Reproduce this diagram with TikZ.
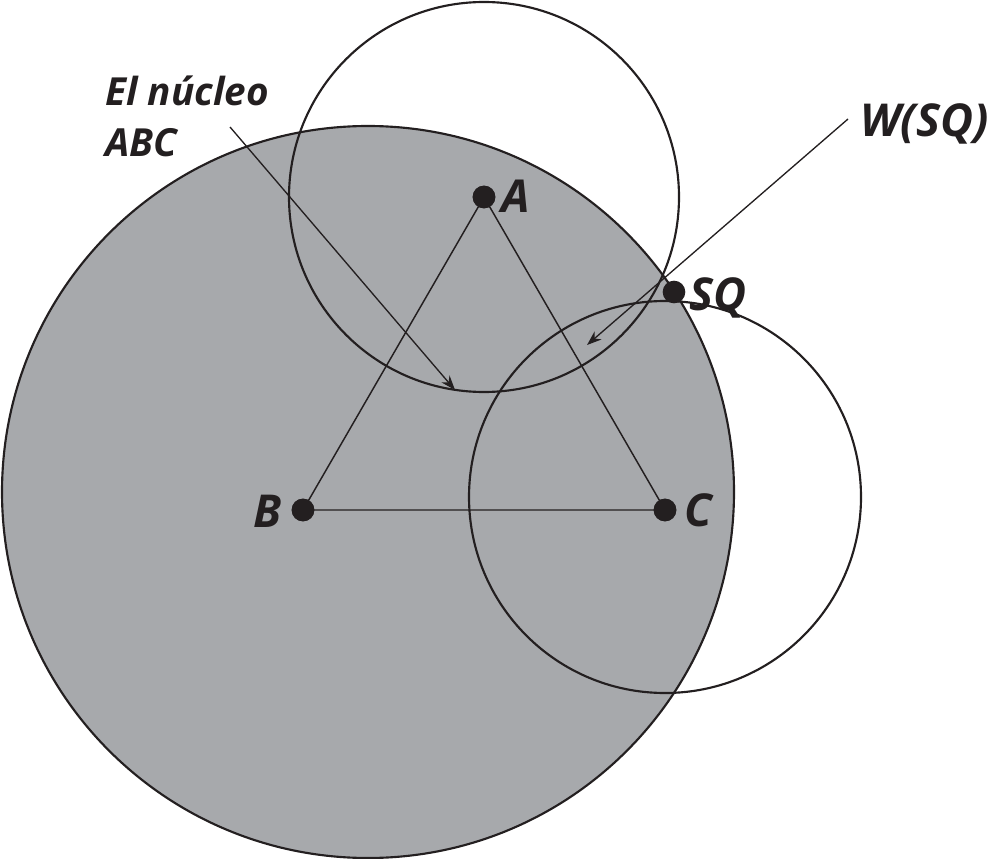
\documentclass[tikz,border=0pt]{standalone}
\usepackage{fontspec}
\setmainfont{Open Sans}
\usetikzlibrary{arrows.meta}
\definecolor{coregray}{RGB}{167,169,172}
\definecolor{ink}{RGB}{35,31,32}
\begin{document}
\begin{tikzpicture}[x=0.75pt,y=-0.75pt,
  dot/.style={circle,fill=ink,inner sep=0pt,minimum size=17pt},
  lbl/.style={anchor=base west,inner sep=0pt,text=ink,font=\fontsize{34}{36}\selectfont\bfseries\itshape},
  captext/.style={anchor=base west,inner sep=0pt,text=ink,font=\fontsize{29}{31}\selectfont\bfseries\itshape},
  ring/.style={draw=ink,line width=1.6pt},
  edge/.style={draw=ink,line width=1.1pt},
  pointer/.style={draw=ink,line width=1pt,-{Stealth[length=11pt,width=8pt]}}]
\useasboundingbox (0,0) rectangle (995,859);
% big shaded circle
\coordinate (O) at (368,492);
\fill[coregray] (O) circle[radius=274.5pt];
\draw[ring] (O) circle[radius=274.5pt];
% circles around A and C
\coordinate (cA) at (484,197);
\coordinate (cC) at (665,497);
\draw[ring] (cA) circle[radius=146.25pt];
\draw[ring] (cC) circle[radius=147pt];
% points
\node[dot] (A) at (484,197) {};
\node[dot] (B) at (303,510) {};
\node[dot] (C) at (665,510) {};
\node[dot] (SQ) at (674,292) {};
% triangle
\draw[edge] (A.center) -- (B.center) -- (C.center) -- (A.center);
\node[dot] at (A) {};
\node[dot] at (B) {};
\node[dot] at (C) {};
% labels
\node[lbl] (lA) at (501,213) {A};
\node[lbl] (lB) at (253,527) {B};
\node[lbl] (lC) at (684,526) {C};
\node[lbl] (lSQ) at (689,310) {SQ};
\node[lbl] (lW) at (860,137) {W(SQ)};
\node[captext] (t1) at (105,106) {El núcleo};
\node[captext] (t2) at (105,157) {ABC};
% pointers
\coordinate (p1s) at (230,127);
\coordinate (p1e) at (455,390);
\coordinate (p2s) at (848,119);
\coordinate (p2e) at (587,345);
\draw[pointer] (p1s) -- (p1e);
\draw[pointer] (p2s) -- (p2e);
\end{tikzpicture}
\end{document}
